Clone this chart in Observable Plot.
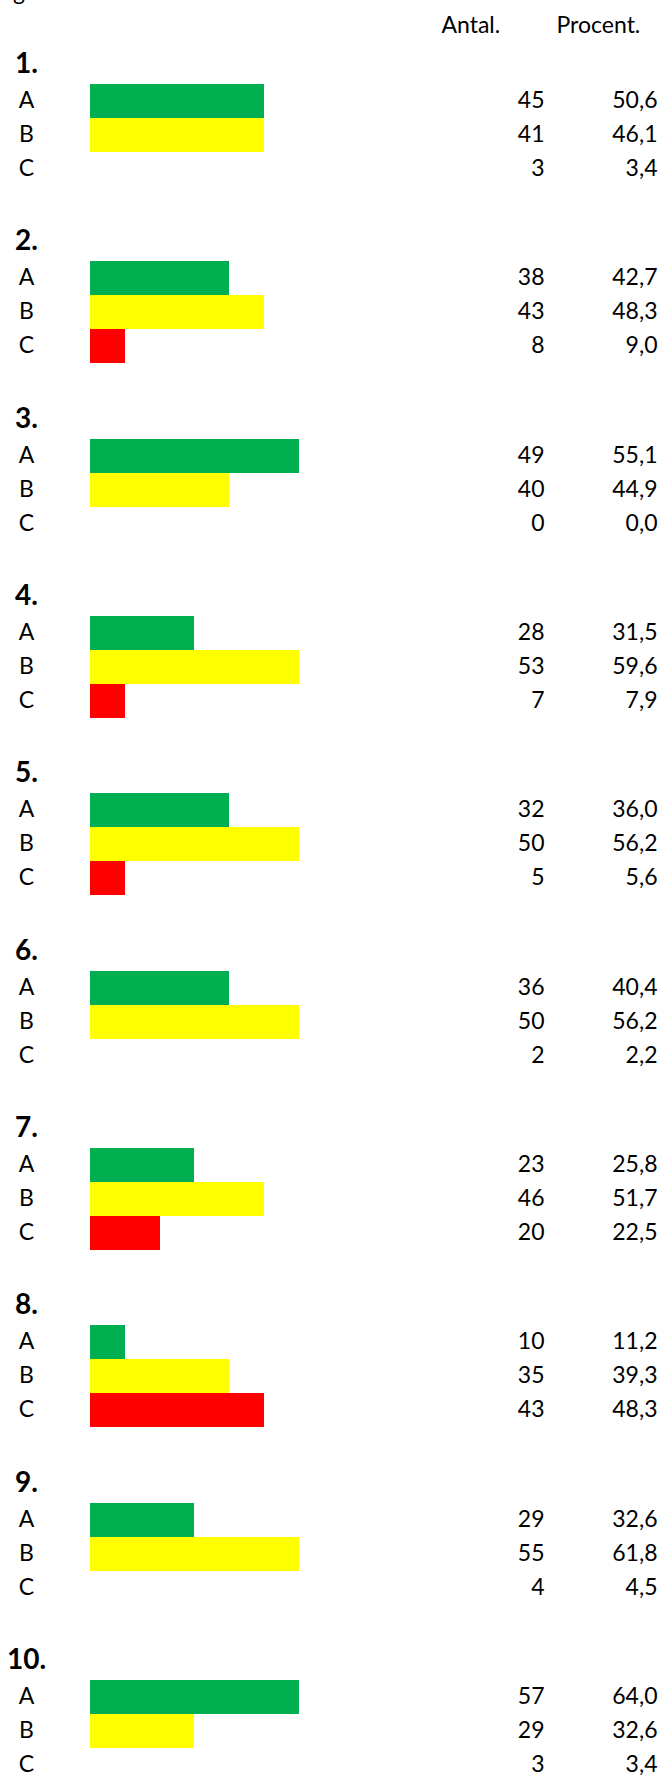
<!DOCTYPE html>
<html>
<head>
<meta charset="utf-8">
<script src="https://cdn.jsdelivr.net/npm/d3@7"></script>
<script src="https://cdn.jsdelivr.net/npm/@observablehq/plot@0.6"></script>
<style>
  html, body { margin: 0; padding: 0; background: #fff; }
  #chart svg { display: block; }
</style>
</head>
<body>
<div id="chart"></div>
<script>
// ---- data ----
const questions = ["1.", "2.", "3.", "4.", "5.", "6.", "7.", "8.", "9.", "10."];
const options = ["A", "B", "C"];
const headers = ["Antal.", "Procent."];
const antal = [
  [45, 41, 3], [38, 43, 8], [49, 40, 0], [28, 53, 7], [32, 50, 5],
  [36, 50, 2], [23, 46, 20], [10, 35, 43], [29, 55, 4], [57, 29, 3]
];
const procent = [
  [50.6, 46.1, 3.4], [42.7, 48.3, 9.0], [55.1, 44.9, 0.0], [31.5, 59.6, 7.9], [36.0, 56.2, 5.6],
  [40.4, 56.2, 2.2], [25.8, 51.7, 22.5], [11.2, 39.3, 48.3], [32.6, 61.8, 4.5], [64.0, 32.6, 3.4]
];
const optionColors = ["#00B050", "#FFFF00", "#FF0000"];

// ---- table for the marks ----
const rows = [];
questions.forEach((q, g) => options.forEach((o, r) => rows.push({
  q, o, g, r, antal: antal[g][r], pct: procent[g][r], color: optionColors[r]
})));
const groups = questions.map((q, g) => ({q, g}));

// ---- layout (px) ----
const firstTop = 84, groupStep = 177.33, rowH = 34, titleH = 41;
const rowTop = d => firstTop + d.g * groupStep + d.r * rowH;
const rowMid = d => rowTop(d) + rowH / 2 - 1;
const titleMid = d => firstTop + d.g * groupStep - titleH / 2;
// Bars are drawn as whole 10 % cells (as in the sheet)
const cells = d => Math.round(d.pct / 10) * 10;
const fmtPct = v => v.toFixed(1).replace(".", ",");

const chart = Plot.plot({
  width: 665,
  height: 1776,
  margin: 0,
  x: {domain: [0, 100], range: [90, 438.3], axis: null},
  y: {domain: [0, 1776], range: [0, 1776], axis: null},
  color: {type: "identity"},
  style: {fontFamily: "Lato, 'Open Sans', sans-serif", fontSize: "23px", color: "#000", background: "#fff"},
  marks: [
    Plot.rect(rows.filter(d => cells(d) > 0), {
      x1: 0, x2: cells, y1: rowTop, y2: d => rowTop(d) + rowH,
      fill: "color", shapeRendering: "crispEdges"
    }),
    // fragment of text above the view
    Plot.text(["g"], {frameAnchor: "left", dx: 18.5, y: () => -7.9, text: d => d, textAnchor: "middle", fill: "#000"}),
    // column headers
    Plot.text([headers[0]], {frameAnchor: "left", dx: 441, y: () => 25, text: d => d, textAnchor: "start", fill: "#000"}),
    Plot.text([headers[1]], {frameAnchor: "left", dx: 556, y: () => 25, text: d => d, textAnchor: "start", fill: "#000"}),
    // question titles
    Plot.text(groups, {frameAnchor: "left", dx: 26, y: titleMid, text: "q", textAnchor: "middle", fontWeight: "bold", fontSize: 28, fill: "#000"}),
    // option labels
    Plot.text(rows, {frameAnchor: "left", dx: 26, y: rowMid, text: "o", textAnchor: "middle", fill: "#000"}),
    // counts
    Plot.text(rows, {frameAnchor: "left", dx: 544, y: rowMid, text: d => String(d.antal), textAnchor: "end", fill: "#000"}),
    // percentages
    Plot.text(rows, {frameAnchor: "left", dx: 657, y: rowMid, text: d => fmtPct(d.pct), textAnchor: "end", fill: "#000"})
  ]
});
document.getElementById("chart").append(chart);
</script>
</body>
</html>
